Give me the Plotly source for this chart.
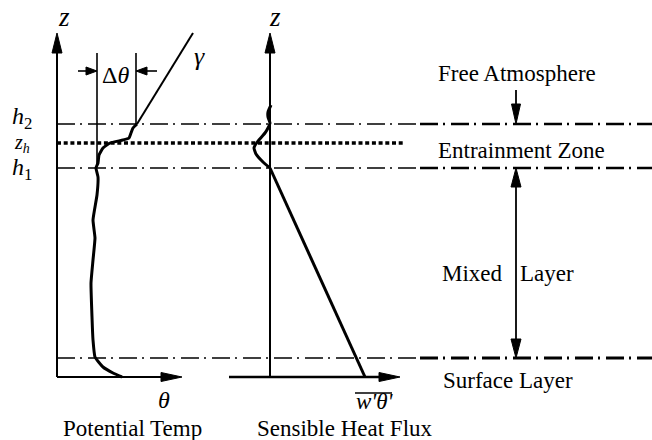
import plotly.graph_objects as go

# Heights of the boundary-layer levels (z units, ground at 0)
z_surface = 19
z_h1 = 209
z_zh = 234
z_h2 = 253
z_top = 344

# Horizontal positions of the two profile axes
x_theta_axis = 57
x_flux_axis = 270
x_theta_end = 182
x_flux_start = 229
x_flux_end = 400

# Potential temperature profile (theta, z)
theta_x = [122, 113, 103, 95, 93, 92, 91, 93, 95, 93, 97, 98, 96, 98, 99, 103, 110, 123, 129, 131, 133, 137]
theta_z = [0, 4, 10, 20, 37, 60, 94, 117, 139, 157, 182, 200, 209, 214, 222, 229, 234, 237, 239, 244, 249, 253]

# Lapse rate gamma above the inversion
gamma_x = [137, 193]
gamma_z = [253, 344]

# Sensible heat flux profile (flux, z)
flux_x = [365, 270, 263, 256, 254, 258, 265, 268, 270, 268, 268, 271]
flux_z = [0, 209, 215, 223, 229, 236, 244, 249, 254, 260, 265, 272]

# Delta-theta markers
dtheta_left = 97
dtheta_right = 136
dtheta_top = 324
dtheta_arrow_z = 306

# Right-hand region arrows
x_region_arrow = 516

SERIF = "Liberation Serif"
BLACK = "#000000"

fig = go.Figure()


def line(xs, zs, width=2.0, dash="solid"):
    fig.add_trace(go.Scatter(x=xs, y=zs, mode="lines",
                             line=dict(color=BLACK, width=width, dash=dash, shape="spline", smoothing=0.4),
                             hoverinfo="skip", showlegend=False))


def straight(xs, zs, width=2.0, dash="solid"):
    fig.add_trace(go.Scatter(x=xs, y=zs, mode="lines",
                             line=dict(color=BLACK, width=width, dash=dash),
                             hoverinfo="skip", showlegend=False))


def head(tip_x, tip_z, direction, length=20, half=5):
    # filled triangular arrow head
    if direction == "up":
        xs = [tip_x, tip_x - half, tip_x + half, tip_x]
        zs = [tip_z, tip_z - length, tip_z - length, tip_z]
    elif direction == "down":
        xs = [tip_x, tip_x - half, tip_x + half, tip_x]
        zs = [tip_z, tip_z + length, tip_z + length, tip_z]
    elif direction == "right":
        xs = [tip_x, tip_x - length, tip_x - length, tip_x]
        zs = [tip_z, tip_z + half, tip_z - half, tip_z]
    else:
        xs = [tip_x, tip_x + length, tip_x + length, tip_x]
        zs = [tip_z, tip_z + half, tip_z - half, tip_z]
    fig.add_trace(go.Scatter(x=xs, y=zs, mode="lines", fill="toself", fillcolor=BLACK,
                             line=dict(color=BLACK, width=1), hoverinfo="skip", showlegend=False))


DASHDOT = "18px,5px,2px,6px"
x_split = 420

# level lines
for zl, wl, wr in [(z_h2, 1.6, 2.5), (z_h1, 1.6, 2.5), (z_surface, 1.6, 3.2)]:
    straight([x_theta_axis, x_split], [zl, zl], width=wl, dash=DASHDOT)
    straight([x_split, 652], [zl, zl], width=wr, dash=DASHDOT)
straight([x_theta_axis, 403], [z_zh, z_zh], width=3.5, dash="4px,2.7px")

# axes
straight([x_theta_axis, x_theta_axis], [0, z_top - 18], width=2)
head(x_theta_axis, z_top, "up", length=20, half=5)
straight([x_theta_axis, x_theta_end - 18], [0, 0], width=2)
head(x_theta_end, 0, "right", length=21, half=4.5)

straight([x_flux_axis, x_flux_axis], [0, z_top - 18], width=2)
head(x_flux_axis, z_top, "up", length=20, half=5)
straight([x_flux_start, x_flux_end - 18], [0, 0], width=2.5)
head(x_flux_end, 0, "right", length=21, half=4.5)

# delta-theta construction lines
straight([dtheta_left, dtheta_left], [dtheta_top, z_h1 + 4], width=1.6)
straight([dtheta_right, dtheta_right], [dtheta_top, z_h2], width=1.6)
straight([78, dtheta_left - 8], [dtheta_arrow_z, dtheta_arrow_z], width=1.6)
head(dtheta_left, dtheta_arrow_z, "right", length=11, half=4)
straight([157, dtheta_right + 8], [dtheta_arrow_z, dtheta_arrow_z], width=1.6)
head(dtheta_right, dtheta_arrow_z, "left", length=11, half=4)

# profiles
line(theta_x, theta_z, width=3)
straight(gamma_x, gamma_z, width=2)
line(flux_x[1:], flux_z[1:], width=3)
straight(flux_x[:2], flux_z[:2], width=3)

# region arrows
straight([x_region_arrow, x_region_arrow], [287, z_h2 + 15], width=1.8)
head(x_region_arrow, z_h2, "down", length=20, half=4.5)
straight([x_region_arrow, x_region_arrow], [z_h1 - 15, z_surface + 15], width=1.8)
head(x_region_arrow, z_h1, "up", length=19, half=5)
head(x_region_arrow, z_surface, "down", length=19, half=5)

# overbar of the flux label
fig.add_shape(type="line", x0=355, x1=392, y0=-16, y1=-16, line=dict(color=BLACK, width=1.3))


def label(x, z, text, size=23, yanchor="middle"):
    fig.add_annotation(x=x, y=z, text=text, showarrow=False, xanchor="center", yanchor=yanchor,
                       font=dict(family=SERIF, size=size, color=BLACK))


label(64, 360, "<i>z</i>", size=27)
label(275, 360, "<i>z</i>", size=27)
label(115, 302, "Δ<i>θ</i>", size=24)
label(199, 321, "<i>γ</i>", size=26)
label(22, 259, "<i>h</i><sub>2</sub>", size=24)
label(22, 234, "<i>z</i><sub><i>h</i></sub>", size=20)
label(22, 208, "<i>h</i><sub>1</sub>", size=24)
label(164, -23, "<i>θ</i>", size=24)
label(375, -24, "<i>w'θ'</i>", size=23)
label(132, -51, "Potential Temp")
label(345, -51, "Sensible Heat Flux")
label(517, 304, "Free Atmosphere")
label(521, 227, "Entrainment Zone")
label(472, 104, "Mixed")
label(547, 104, "Layer")
label(508, -3, "Surface Layer")

fig.update_layout(
    width=652, height=440,
    margin=dict(l=0, r=0, t=0, b=0),
    paper_bgcolor="white", plot_bgcolor="white",
    font=dict(family=SERIF, size=23, color=BLACK),
    xaxis=dict(range=[0, 652], visible=False, fixedrange=True),
    yaxis=dict(range=[-63, 377], visible=False, fixedrange=True),
    showlegend=False,
)

fig.write_html("out.html")
